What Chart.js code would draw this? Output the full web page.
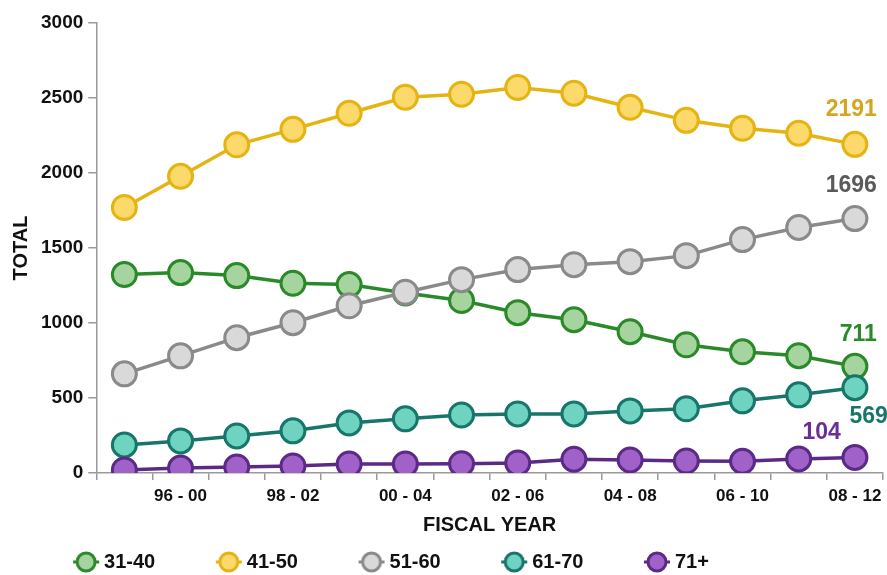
<!DOCTYPE html>
<html>
<head>
<meta charset="utf-8">
<script src="https://cdn.jsdelivr.net/npm/chart.js@4.4.1/dist/chart.umd.min.js"></script>
<style>
  html, body { margin: 0; padding: 0; background: #ffffff; }
  #wrap { width: 887px; height: 575px; position: relative; }
</style>
</head>
<body>
<div id="wrap"><canvas id="c"></canvas></div>
<script>
const categories = ['95 - 99', '96 - 00', '97 - 01', '98 - 02', '99 - 03', '00 - 04', '01 - 05',
                    '02 - 06', '03 - 07', '04 - 08', '05 - 09', '06 - 10', '07 - 11', '08 - 12'];
const seriesNames = ['31-40', '41-50', '51-60', '61-70', '71+'];
const age31to40 = [1323, 1336, 1316, 1265, 1256, 1200, 1150, 1069, 1022, 942, 855, 808, 782, 711];
const age41to50 = [1770, 1978, 2188, 2291, 2398, 2505, 2525, 2570, 2532, 2438, 2351, 2298, 2265, 2191];
const age51to60 = [661, 781, 902, 1002, 1115, 1205, 1289, 1356, 1389, 1409, 1449, 1556, 1637, 1696];
const age61to70 = [187, 214, 247, 281, 334, 361, 387, 394, 394, 414, 428, 481, 521, 569];
const age71plus = [20, 33, 40, 47, 60, 60, 62, 67, 92, 87, 80, 78, 94, 104];
const yTicks = [0, 500, 1000, 1500, 2000, 2500, 3000];

const lineColors = ['#2a8a2a', '#e6b412', '#8a8a8a', '#17756a', '#5b2a86'];
const fillColors = ['#a6d49e', '#fbd96b', '#d9d9d9', '#6fd3c1', '#a062c9'];
const labelColors = ['#2a8a2a', '#d6a520', '#5a5a5a', '#17756a', '#6a2e96'];
const seriesValues = [age31to40, age41to50, age51to60, age61to70, age71plus];

const FONT = "'Liberation Sans', Arial, sans-serif";

// end-of-line value labels: [dx, dy]
const endLabelPos = [
  [22, -32],
  [22, -35],
  [22, -33],
  [33, 29],
  [-14, -25]
];

const endLabels = {
  id: 'endLabels',
  afterDatasetsDraw(chart) {
    const ctx = chart.ctx;
    ctx.save();
    ctx.font = "bold 23px " + FONT;
    ctx.textBaseline = 'middle';
    ctx.textAlign = 'right';
    chart.data.datasets.forEach((ds, i) => {
      const meta = chart.getDatasetMeta(i);
      const last = meta.data[meta.data.length - 1];
      const v = ds.data[ds.data.length - 1];
      const p = endLabelPos[i];
      ctx.fillStyle = labelColors[i];
      ctx.fillText(String(v), last.x + p[0], last.y + p[1]);
    });
    ctx.restore();
  }
};

function legendIcon(i) {
  const c = document.createElement('canvas');
  c.width = 28; c.height = 24;
  const g = c.getContext('2d');
  g.strokeStyle = lineColors[i];
  g.lineWidth = 3;
  g.beginPath(); g.moveTo(1, 12); g.lineTo(27, 12); g.stroke();
  g.beginPath(); g.arc(14, 12, 9, 0, Math.PI * 2);
  g.fillStyle = fillColors[i]; g.fill(); g.stroke();
  return c;
}

const datasets = seriesNames.map((name, i) => ({
  label: name,
  data: seriesValues[i],
  borderColor: lineColors[i],
  backgroundColor: fillColors[i],
  pointBackgroundColor: fillColors[i],
  pointBorderColor: lineColors[i],
  pointBorderWidth: 3,
  pointRadius: 12,
  pointHoverRadius: 12,
  borderWidth: 3.5,
  tension: 0,
  fill: false,
  order: seriesNames.length - i
}));

new Chart(document.getElementById('c'), {
  type: 'line',
  data: { labels: categories, datasets },
  plugins: [endLabels],
  options: {
    responsive: true,
    maintainAspectRatio: false,
    animation: false,
    layout: { autoPadding: false, padding: { top: 23, right: 4, left: 4, bottom: -7 } },
    plugins: {
      tooltip: { enabled: false },
      legend: {
        position: 'bottom',
        align: 'center',
        labels: {
          usePointStyle: true,
          boxWidth: 16,
          boxHeight: 16,
          padding: 10,
          color: '#111',
          font: { family: FONT, size: 20, weight: 'bold' },
          sort: (a, b) => a.datasetIndex - b.datasetIndex,
          generateLabels(chart) {
            const items = Chart.defaults.plugins.legend.labels.generateLabels(chart);
            items.forEach(it => {
              const pad = it.text.length >= 5 ? 10 : 18;
              it.text = it.text + ' '.repeat(pad);
              it.pointStyle = legendIcon(it.datasetIndex);
            });
            return items;
          }
        }
      }
    },
    scales: {
      x: {
        type: 'category',
        offset: true,
        afterFit: (scale) => { scale.paddingRight = 0; },
        border: { display: true, color: '#9a9a9a', width: 1.5 },
        grid: { offset: true, drawOnChartArea: false, drawTicks: true, tickLength: 7, color: '#9a9a9a', lineWidth: 1.5 },
        ticks: {
          autoSkip: false,
          maxRotation: 0,
          padding: 8,
          color: '#111',
          font: { family: FONT, size: 17, weight: 'bold', lineHeight: 1.0 },
          callback: (val, idx) => (idx % 2 === 1 ? categories[idx] : '')
        },
        title: {
          display: true,
          text: 'FISCAL YEAR',
          color: '#111',
          font: { family: FONT, size: 20, weight: 'bold' },
          padding: { top: 0, bottom: 5 }
        }
      },
      y: {
        min: 0,
        max: 3000,
        afterBuildTicks: (axis) => { axis.ticks = yTicks.map(v => ({ value: v })); },
        border: { display: true, color: '#9a9a9a', width: 1.5 },
        grid: { drawOnChartArea: false, drawTicks: true, tickLength: 8, color: '#9a9a9a', lineWidth: 1.5 },
        ticks: {
          padding: 5,
          color: '#111',
          font: { family: FONT, size: 19, weight: 'bold' },
          callback: (v) => String(v)
        },
        title: {
          display: true,
          text: 'TOTAL',
          color: '#111',
          font: { family: FONT, size: 20, weight: 'bold' },
          padding: { top: 5, bottom: 3 }
        }
      }
    }
  }
});
</script>
</body>
</html>
